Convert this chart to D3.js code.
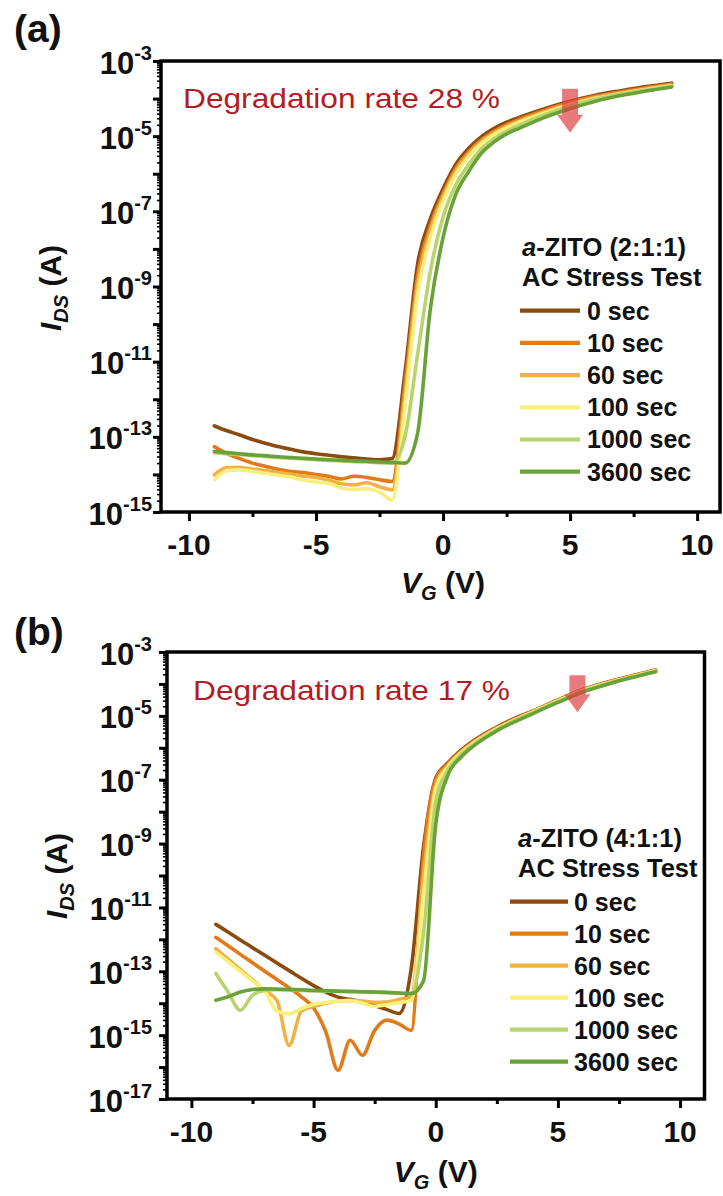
<!DOCTYPE html>
<html><head><meta charset="utf-8">
<script src="https://cdn.jsdelivr.net/npm/d3@7"></script>
<style>
html,body{margin:0;padding:0;background:#fff;}
svg{display:block;font-family:"Liberation Sans",Arial,Helvetica,sans-serif;}
</style></head><body>
<svg id="chart" width="723" height="1196"></svg>
<script>
// Gate voltage grid (V)
const VG = [-9,-8.5,-8,-7.5,-7,-6.5,-6,-5.5,-5,-4.5,-4,-3.5,-3,-2.5,-2,-1.5,-1,-0.5,0,0.5,1,1.5,2,2.5,3,4,5,6,7,8,9];
const seriesLabels = ["0 sec","10 sec","60 sec","100 sec","1000 sec","3600 sec"];
const seriesColors = ["#8b4a0e","#e27a1a","#f2b146","#f7f07c","#b8d46c","#6aa23a"];

// Panel (a): log10 of I_DS (A)
const a_0s    = [-12.71,-12.84,-12.95,-13.07,-13.17,-13.26,-13.33,-13.40,-13.45,-13.49,-13.53,-13.56,-13.59,-13.61,-13.58,-11.3,-8.4,-7.2,-6.4,-5.75,-5.33,-5.02,-4.8,-4.63,-4.5,-4.27,-4.07,-3.91,-3.79,-3.68,-3.59];
const a_10s   = [-13.26,-13.45,-13.58,-13.70,-13.78,-13.86,-13.92,-13.95,-14.00,-14.05,-14.12,-14.05,-14.08,-14.14,-14.19,-11.6,-8.7,-7.38,-6.52,-5.85,-5.42,-5.1,-4.87,-4.69,-4.55,-4.31,-4.1,-3.94,-3.82,-3.71,-3.62];
const a_60s   = [-14.01,-13.82,-13.82,-13.86,-13.90,-13.95,-13.99,-14.05,-14.08,-14.15,-14.25,-14.28,-14.22,-14.33,-14.41,-11.9,-8.95,-7.52,-6.62,-5.93,-5.48,-5.15,-4.92,-4.74,-4.6,-4.35,-4.14,-3.97,-3.85,-3.74,-3.64];
const a_100s  = [-14.14,-13.90,-13.88,-13.92,-13.97,-14.02,-14.07,-14.15,-14.20,-14.24,-14.36,-14.40,-14.38,-14.47,-14.68,-12.2,-9.2,-7.7,-6.72,-6.02,-5.55,-5.2,-4.96,-4.78,-4.63,-4.38,-4.17,-4.0,-3.87,-3.76,-3.66];
const a_1000s = [-13.42,-13.45,-13.47,-13.50,-13.52,-13.55,-13.57,-13.59,-13.61,-13.63,-13.64,-13.66,-13.67,-13.69,-13.70,-13.0,-10.8,-8.6,-7.15,-6.3,-5.76,-5.34,-5.07,-4.87,-4.71,-4.43,-4.2,-4.02,-3.88,-3.77,-3.67];
const a_3600s = [-13.39,-13.42,-13.45,-13.48,-13.50,-13.53,-13.55,-13.57,-13.59,-13.61,-13.62,-13.64,-13.65,-13.67,-13.68,-13.70,-12.9,-9.6,-7.7,-6.55,-5.95,-5.46,-5.16,-4.94,-4.79,-4.5,-4.27,-4.07,-3.92,-3.8,-3.69];

// Panel (b): log10 of I_DS (A)
const b_0s    = [-11.53,-11.77,-12.02,-12.26,-12.50,-12.74,-12.98,-13.22,-13.45,-13.65,-13.81,-13.88,-13.96,-14.07,-14.20,-14.32,-12.9,-9.1,-6.95,-6.47,-6.1,-5.8,-5.56,-5.35,-5.16,-4.84,-4.5,-4.18,-3.95,-3.75,-3.56];
const b_10s   = [-11.94,-12.20,-12.47,-12.73,-13.00,-13.26,-13.52,-13.80,-14.15,-14.90,-16.10,-15.16,-15.63,-14.85,-14.53,-14.65,-14.85,-9.4,-7.0,-6.5,-6.13,-5.83,-5.59,-5.37,-5.18,-4.85,-4.51,-4.19,-3.96,-3.76,-3.57];
const b_60s   = [-12.29,-12.62,-12.94,-13.27,-13.60,-13.92,-15.32,-14.25,-14.10,-14.00,-13.93,-13.91,-13.93,-13.97,-13.96,-13.88,-13.80,-10.0,-7.15,-6.55,-6.16,-5.86,-5.61,-5.39,-5.2,-4.86,-4.52,-4.2,-3.97,-3.77,-3.58];
const b_100s  = [-12.40,-12.70,-13.00,-13.30,-13.62,-14.25,-14.33,-14.17,-14.03,-13.98,-13.93,-13.92,-14.00,-14.10,-14.05,-13.98,-13.92,-10.6,-7.3,-6.6,-6.19,-5.88,-5.63,-5.41,-5.22,-4.87,-4.53,-4.21,-3.98,-3.78,-3.58];
const b_1000s = [-13.07,-13.65,-14.22,-13.75,-13.60,-13.58,-13.59,-13.60,-13.61,-13.62,-13.63,-13.64,-13.65,-13.66,-13.67,-13.69,-13.70,-11.8,-7.7,-6.7,-6.24,-5.92,-5.66,-5.44,-5.24,-4.89,-4.55,-4.23,-3.99,-3.79,-3.6];
const b_3600s = [-13.91,-13.80,-13.65,-13.57,-13.55,-13.56,-13.57,-13.58,-13.60,-13.61,-13.62,-13.63,-13.64,-13.65,-13.66,-13.68,-13.70,-13.30,-8.4,-6.85,-6.32,-5.97,-5.70,-5.47,-5.27,-4.92,-4.58,-4.26,-4.02,-3.81,-3.62];

// Ticks
const xMajorTicks = [-10,-5,0,5,10];
const xMinorTicks = [-7.5,-2.5,2.5,7.5];
const yLabelExpA = [-3,-5,-7,-9,-11,-13,-15];
const yLabelExpB = [-3,-5,-7,-9,-11,-13,-15,-17];

const svg = d3.select("#chart");

function drawPanel(o) {
  const x = d3.scaleLinear().domain(o.xDom).range(o.xRng);
  const y = d3.scaleLog().domain(o.yDom).range(o.yRng);
  const g = svg.append("g");
  const L = o.xRng[0], R = o.xRng[1], B = o.yRng[0], T = o.yRng[1];

  // curves
  const line = d3.line().x(d => x(d[0])).y(d => y(d[1])).curve(d3.curveMonotoneX);
  o.series.forEach((s, i) => {
    g.append("path")
      .datum(VG.map((v, j) => [v, Math.pow(10, s[j])]))
      .attr("d", line)
      .attr("fill", "none")
      .attr("stroke", seriesColors[i])
      .attr("stroke-width", 3.6)
      .attr("stroke-linejoin", "round")
      .attr("stroke-linecap", "round");
  });

  // axes ticks (library axes)
  const lo = Math.round(Math.log10(o.yDom[0])), hi = Math.round(Math.log10(o.yDom[1]));
  const decades = d3.range(lo, hi + 1).map(e => Math.pow(10, e));
  const minors = [];
  for (let e = lo; e < hi; e++) for (let k = 2; k <= 9; k++) minors.push(k * Math.pow(10, e));

  const ax1 = g.append("g").attr("transform", `translate(${L},0)`)
    .call(d3.axisLeft(y).tickValues(decades).tickSize(8).tickSizeOuter(0).tickFormat(""));
  const ax2 = g.append("g").attr("transform", `translate(${L},0)`)
    .call(d3.axisLeft(y).tickValues(minors).tickSize(4).tickSizeOuter(0).tickFormat(""));
  const ax3 = g.append("g").attr("transform", `translate(0,${B})`)
    .call(d3.axisBottom(x).tickValues(xMajorTicks).tickSize(9).tickSizeOuter(0).tickFormat(""));
  const ax4 = g.append("g").attr("transform", `translate(0,${B})`)
    .call(d3.axisBottom(x).tickValues(xMinorTicks).tickSize(5).tickSizeOuter(0).tickFormat(""));
  [ax1, ax2, ax3, ax4].forEach(a => { a.select(".domain").remove(); });
  ax1.selectAll("line").attr("stroke", "#000").attr("stroke-width", 3);
  ax2.selectAll("line").attr("stroke", "#000").attr("stroke-width", 1.6);
  ax3.selectAll("line").attr("stroke", "#000").attr("stroke-width", 3);
  ax4.selectAll("line").attr("stroke", "#000").attr("stroke-width", 3);

  // frame
  g.append("rect").attr("x", L).attr("y", T).attr("width", R - L).attr("height", B - T)
    .attr("fill", "none").attr("stroke", "#000").attr("stroke-width", 3.5);

  // y tick labels
  o.yLabels.forEach(e => {
    const t = g.append("text").attr("x", 152).attr("y", y(Math.pow(10, e)) + 12.5)
      .attr("text-anchor", "end").attr("font-weight", "bold").attr("font-size", 31).attr("fill", "#111");
    t.append("tspan").text("10");
    t.append("tspan").attr("font-size", 20).attr("dy", -14).text(String(e));
  });
  // x tick labels
  xMajorTicks.forEach(v => {
    g.append("text").attr("x", x(v)).attr("y", B + 43).attr("text-anchor", "middle")
      .attr("font-weight", "bold").attr("font-size", 30).attr("fill", "#111").text(String(v));
  });

  // x title
  const xt = g.append("text").attr("x", x(0)).attr("y", o.xTitleY).attr("text-anchor", "middle")
    .attr("font-weight", "bold").attr("font-size", 30).attr("fill", "#111");
  xt.append("tspan").attr("font-style", "italic").text("V");
  xt.append("tspan").attr("font-style", "italic").attr("font-size", 20).attr("dy", 7).text("G");
  xt.append("tspan").attr("dy", -7).text(" (V)");

  // y title
  const yt = g.append("text").attr("transform", `translate(${o.yTitleX},${o.yTitleY}) rotate(-90)`)
    .attr("text-anchor", "middle").attr("font-weight", "bold").attr("font-size", 30).attr("fill", "#111");
  yt.append("tspan").attr("font-style", "italic").text("I");
  yt.append("tspan").attr("font-style", "italic").attr("font-size", 20).attr("dy", 7).text("DS");
  yt.append("tspan").attr("dy", -7).text(" (A)");

  // panel label
  g.append("text").attr("x", 14).attr("y", o.panelLabelY).attr("font-weight", "bold")
    .attr("font-size", 39).attr("fill", "#111").text(o.panelLabel);

  // degradation text
  g.append("text").attr("x", L + o.degDx).attr("y", o.degY).attr("font-size", 28)
    .attr("fill", "#b01e22").attr("textLength", 317).attr("lengthAdjust", "spacingAndGlyphs")
    .text(o.degText);

  // arrow
  const ax = x(o.arrowX), yTop = y(Math.pow(10, o.arrowTop)), yTip = y(Math.pow(10, o.arrowTip));
  const hw = 8, hh = 13, hl = 18;
  g.append("path")
    .attr("d", `M${ax - hw},${yTop} L${ax + hw},${yTop} L${ax + hw},${yTip - hl} L${ax + hh},${yTip - hl} L${ax},${yTip} L${ax - hh},${yTip - hl} L${ax - hw},${yTip - hl} Z`)
    .attr("fill", "#dd3b40").attr("fill-opacity", 0.68);

  // legend
  const lg = o.legend;
  const t1 = g.append("text").attr("x", lg.x).attr("y", lg.titleY).attr("font-weight", "bold")
    .attr("font-size", 25.5).attr("fill", "#111");
  t1.append("tspan").attr("font-style", "italic").text("a");
  t1.append("tspan").text("-ZITO " + o.ratio);
  g.append("text").attr("x", lg.x).attr("y", lg.titleY + 30).attr("font-weight", "bold")
    .attr("font-size", 25.5).attr("fill", "#111").text("AC Stress Test");
  seriesLabels.forEach((lab, i) => {
    const yy = lg.y0 + i * lg.dy;
    g.append("line").attr("x1", lg.lx1).attr("x2", lg.lx2).attr("y1", yy).attr("y2", yy)
      .attr("stroke", seriesColors[i]).attr("stroke-width", 4.2);
    g.append("text").attr("x", lg.tx).attr("y", yy + 8.8).attr("font-weight", "bold")
      .attr("font-size", 25).attr("fill", "#111").text(lab);
  });
}

drawPanel({
  xDom: [-11.1, 10.9], xRng: [161, 720],
  yDom: [1e-15, 1e-3], yRng: [512, 61],
  series: [a_0s, a_10s, a_60s, a_100s, a_1000s, a_3600s],
  yLabels: yLabelExpA,
  xTitleY: 593, yTitleX: 61, yTitleY: 288,
  panelLabel: "(a)", panelLabelY: 42,
  degText: "Degradation rate 28 %", degDx: 22, degY: 108,
  arrowX: 5.0, arrowTop: -3.74, arrowTip: -4.91,
  ratio: "(2:1:1)",
  legend: { x: 522, titleY: 256, lx1: 520, lx2: 580, tx: 587, y0: 310.7, dy: 32.2 }
});

drawPanel({
  xDom: [-11, 11], xRng: [167, 704.5],
  yDom: [1e-17, 1e-3], yRng: [1099, 652],
  series: [b_0s, b_10s, b_60s, b_100s, b_1000s, b_3600s],
  yLabels: yLabelExpB,
  xTitleY: 1182, yTitleX: 67, yTitleY: 876,
  panelLabel: "(b)", panelLabelY: 645,
  degText: "Degradation rate 17 %", degDx: 26, degY: 700,
  arrowX: 5.8, arrowTop: -3.73, arrowTip: -4.89,
  ratio: "(4:1:1)",
  legend: { x: 518, titleY: 847, lx1: 510, lx2: 568, tx: 574, y0: 901.7, dy: 32 }
});
</script>
</body></html>
